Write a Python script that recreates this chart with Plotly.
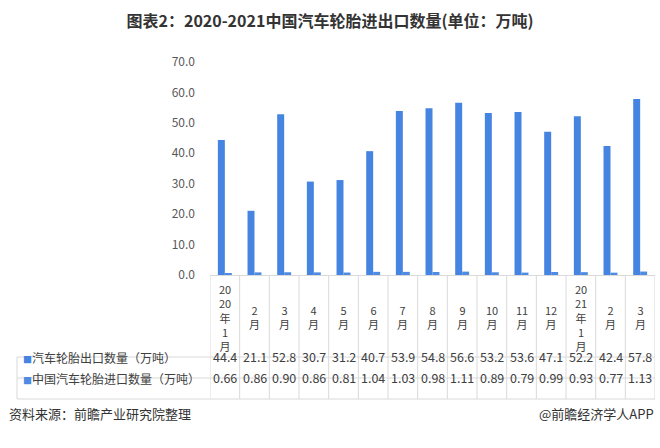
import plotly.graph_objects as go

# ---------------- data ----------------
months = ["2020年1月", "2月", "3月", "4月", "5月", "6月", "7月", "8月", "9月",
          "10月", "11月", "12月", "2021年1月", "2月", "3月"]
export_vals = [44.4, 21.1, 52.8, 30.7, 31.2, 40.7, 53.9, 54.8, 56.6,
               53.2, 53.6, 47.1, 52.2, 42.4, 57.8]
import_vals = [0.66, 0.86, 0.90, 0.86, 0.81, 1.04, 1.03, 0.98, 1.11,
               0.89, 0.79, 0.99, 0.93, 0.77, 1.13]
series_names = ["汽车轮胎出口数量（万吨）", "中国汽车轮胎进口数量（万吨）"]
y_ticks = [0, 10, 20, 30, 40, 50, 60, 70]
title_text = "图表2：2020-2021中国汽车轮胎进出口数量(单位：万吨)"
source_text = "资料来源：前瞻产业研究院整理"
brand_text = "@前瞻经济学人APP"

# ---------------- layout helpers ----------------
W, H = 660, 448
ML, MR, MT, MB = 210, 5, 62, 173
PW, PH = W - ML - MR, H - MT - MB
FONT = "Noto Sans CJK SC, Microsoft YaHei, sans-serif"
BLUE = "#4584E0"
BLUE2 = "#4F8BE2"
GRID = "#D9D9D9"
TXT = "#404040"


def py(p):
    return (H - MB - p) / PH


def px(p):
    return (p - ML) / PW


def wrap(label):
    parts, buf = [], ""
    for ch in label:
        if ch in "年月":
            if buf:
                parts.extend([buf[i:i + 2] for i in range(0, len(buf), 2)])
                buf = ""
            parts.append(ch)
        else:
            buf += ch
    if buf:
        parts.extend([buf[i:i + 2] for i in range(0, len(buf), 2)])
    return "<br>".join(parts)


xs = list(range(len(months)))

fig = go.Figure()
fig.add_bar(x=xs, y=export_vals, name=series_names[0], marker_color=BLUE,
            marker_line_width=0)
fig.add_bar(x=xs, y=import_vals, name=series_names[1], marker_color=BLUE2,
            marker_line_width=0)

shapes = []
# horizontal table lines
for yy in [357, 378, 399]:
    shapes.append(dict(type="line", xref="paper", yref="paper",
                       x0=px(17), x1=1, y0=py(yy), y1=py(yy),
                       line=dict(color=GRID, width=1)))
# left border of the row-header column
shapes.append(dict(type="line", xref="paper", yref="paper",
                   x0=px(17), x1=px(17), y0=py(357), y1=py(399),
                   line=dict(color=GRID, width=1)))
# vertical column borders
for k in range(len(months) + 1):
    shapes.append(dict(type="line", xref="x", yref="paper",
                       x0=k - 0.5, x1=k - 0.5, y0=py(275.5), y1=py(399),
                       line=dict(color=GRID, width=1)))

annotations = []
# category labels
for i, m in enumerate(months):
    annotations.append(dict(x=i, y=py(317), xref="x", yref="paper",
                            text=wrap(m), showarrow=False, yanchor="middle",
                            xanchor="center",
                            font=dict(family=FONT, size=11, color=TXT)))
# table values
for i, (e, im) in enumerate(zip(export_vals, import_vals)):
    annotations.append(dict(x=i, y=py(367.5), xref="x", yref="paper",
                            text=f"{e:.1f}", showarrow=False,
                            font=dict(family=FONT, size=12.5, color=TXT)))
    annotations.append(dict(x=i, y=py(388.5), xref="x", yref="paper",
                            text=f"{im:.2f}", showarrow=False,
                            font=dict(family=FONT, size=12.5, color=TXT)))
# row headers
for name, col, yy in [(series_names[0], BLUE, 367.5), (series_names[1], BLUE2, 388.5)]:
    annotations.append(dict(x=px(21), y=py(yy), xref="paper", yref="paper",
                            xanchor="left", showarrow=False,
                            text=f"<span style='color:{col};font-size:9px'>■</span>{name}",
                            font=dict(family=FONT, size=12, color=TXT)))
# footer
annotations.append(dict(x=px(7), y=py(425), xref="paper", yref="paper",
                        xanchor="left", showarrow=False, text=source_text,
                        font=dict(family=FONT, size=13, color="#333333")))
annotations.append(dict(x=px(656), y=py(425), xref="paper", yref="paper",
                        xanchor="right", showarrow=False, text=brand_text,
                        font=dict(family=FONT, size=13, color="#333333")))

fig.update_layout(
    width=W, height=H,
    margin=dict(l=ML, r=MR, t=MT, b=MB, pad=0),
    paper_bgcolor="white", plot_bgcolor="white",
    barmode="group", bargap=0.53, bargroupgap=0,
    showlegend=False,
    title=dict(text=title_text, x=330 / W, xref="container", xanchor="center",
               y=1 - 21 / H, yref="container", yanchor="middle",
               font=dict(family=FONT, size=16, color="#333333", weight="bold")),
    xaxis=dict(range=[-0.5, len(months) - 0.5], showticklabels=False,
               showgrid=False, zeroline=False, showline=True,
               linecolor=GRID, linewidth=1, ticks=""),
    yaxis=dict(range=[0, 70], tickvals=y_ticks, tickformat=".1f",
               showgrid=False, zeroline=False, showline=False, ticks="",
               ticklabelstandoff=14,
               tickfont=dict(family=FONT, size=12, color="#595959")),
    shapes=shapes, annotations=annotations,
)

fig.write_html("out.html", config={"displayModeBar": False},
               post_script="document.body.style.margin='0';")
